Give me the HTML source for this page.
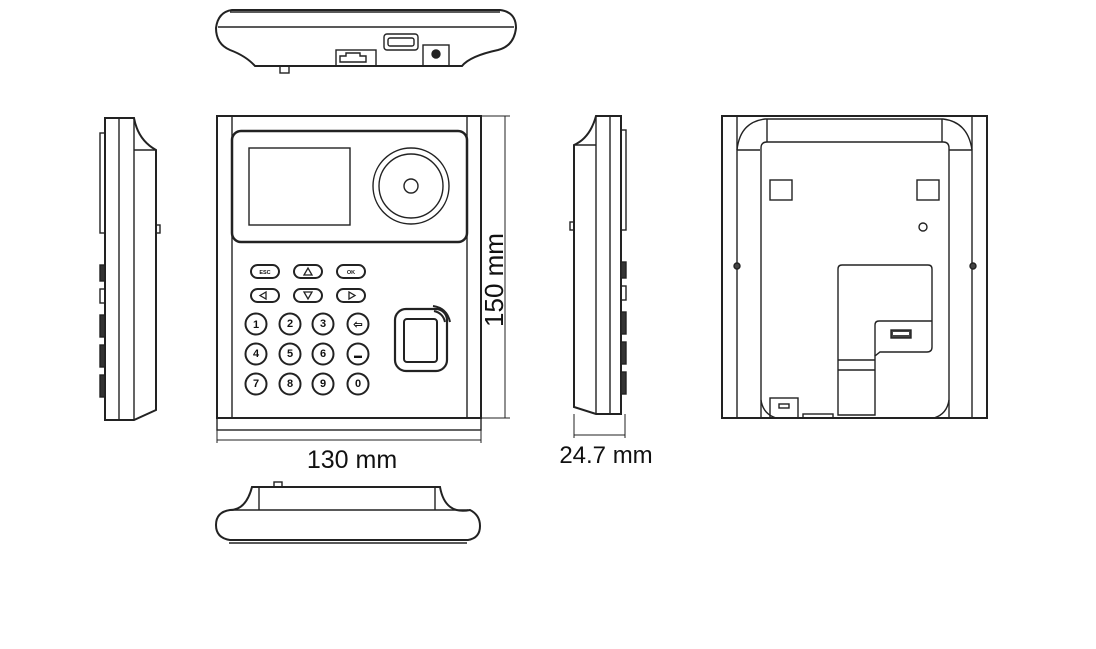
<!DOCTYPE html>
<html><head><meta charset="utf-8"><style>
html,body{margin:0;padding:0;background:#fff;}
svg{display:block;}
text{font-family:"Liberation Sans",sans-serif;fill:#111;}
</style></head><body>
<svg width="1096" height="649" viewBox="0 0 1096 649" xmlns="http://www.w3.org/2000/svg">
<g fill="none" stroke="#222" stroke-width="1.4">
<!-- TOP VIEW -->
<path d="M232 10 L500 10 Q516 12 516 28 Q514 46 498 50 Q470 56 462 66 L255 66 Q246 56 230 50 Q216 44 216 28 Q218 12 232 10 Z" stroke-width="2"/>
<line x1="218" y1="27" x2="514" y2="27"/>
<line x1="230" y1="12" x2="500" y2="12"/>
<rect x="336" y="50" width="40" height="16"/>
<path d="M340 56 h6 v-3 h14 v3 h6 v6 h-26 z"/>
<rect x="384" y="34" width="34" height="16" rx="3"/>
<rect x="388" y="38" width="26" height="8" rx="2"/>
<rect x="423" y="45" width="26" height="21"/>
<circle cx="436" cy="54" r="4" fill="#222"/>
<rect x="280" y="66" width="9" height="7"/>

<!-- LEFT SIDE VIEW -->
<path d="M105 118 L134 118 Q138 140 156 150 L156 410 L134 420 L105 420 Z" stroke-width="2"/>
<line x1="119" y1="118" x2="119" y2="420"/>
<line x1="134" y1="118" x2="134" y2="420"/>
<line x1="134" y1="150" x2="156" y2="150"/>
<rect x="100" y="133" width="5" height="100"/>
<rect x="100" y="265" width="5" height="16" fill="#333"/>
<rect x="100" y="289" width="5" height="14"/>
<rect x="100" y="315" width="5" height="22" fill="#333"/>
<rect x="100" y="345" width="5" height="22" fill="#333"/>
<rect x="100" y="375" width="5" height="22" fill="#333"/>
<rect x="156" y="225" width="4" height="8"/>

<!-- FRONT VIEW -->
<rect x="217" y="116" width="264" height="302" stroke-width="2"/>
<line x1="232" y1="116" x2="232" y2="418"/>
<line x1="467" y1="116" x2="467" y2="418"/>
<rect x="217" y="418" width="264" height="12"/>
<rect x="232" y="131" width="235" height="111" rx="9" stroke-width="2.5"/>
<rect x="249" y="148" width="101" height="77"/>
<circle cx="411" cy="186" r="38"/>
<circle cx="411" cy="186" r="32"/>
<circle cx="411" cy="186" r="7"/>
<g stroke-width="2">
<rect x="251" y="265" width="28" height="13" rx="6.5"/>
<rect x="294" y="265" width="28" height="13" rx="6.5"/>
<rect x="337" y="265" width="28" height="13" rx="6.5"/>
<rect x="251" y="289" width="28" height="13" rx="6.5"/>
<rect x="294" y="289" width="28" height="13" rx="6.5"/>
<rect x="337" y="289" width="28" height="13" rx="6.5"/>
<circle cx="256" cy="324" r="10.5"/><circle cx="290" cy="324" r="10.5"/><circle cx="323" cy="324" r="10.5"/><circle cx="358" cy="324" r="10.5"/>
<circle cx="256" cy="354" r="10.5"/><circle cx="290" cy="354" r="10.5"/><circle cx="323" cy="354" r="10.5"/><circle cx="358" cy="354" r="10.5"/>
<circle cx="256" cy="384" r="10.5"/><circle cx="290" cy="384" r="10.5"/><circle cx="323" cy="384" r="10.5"/><circle cx="358" cy="384" r="10.5"/>
<path d="M304 275 l4 -7 l4 7 z M260 295.5 l6 -3.5 v7 z M304 292 l4 7 l4 -7 z M349 292 v7 l6 -3.5 z" stroke-width="1.3"/>
<rect x="395" y="309" width="52" height="62" rx="11" stroke-width="2.2"/>
<rect x="404" y="319" width="33" height="43" rx="3"/>
<path d="M433 306 Q447 308 450 322" />
<path d="M434 311 Q443 313 445 322" />
</g>
<g font-size="7" font-weight="bold" fill="#222" stroke="none">
<text x="265" y="274" text-anchor="middle" font-size="5.5">ESC</text>
<text x="351" y="274" text-anchor="middle" font-size="5.5">OK</text>
</g>
<g stroke="none" fill="#222" font-weight="bold" font-size="11" text-anchor="middle">
<text x="256" y="328">1</text><text x="290" y="327">2</text><text x="323" y="327">3</text><text x="358" y="328">⇦</text>
<text x="256" y="357">4</text><text x="290" y="357">5</text><text x="323" y="357">6</text><text x="358" y="358" font-size="8">▬</text>
<text x="256" y="387">7</text><text x="290" y="387">8</text><text x="323" y="387">9</text><text x="358" y="387">0</text>
</g>
<!-- dimension lines -->
<line x1="217" y1="430" x2="217" y2="443" stroke-width="1"/>
<line x1="481" y1="430" x2="481" y2="443" stroke-width="1"/>
<line x1="217" y1="440" x2="481" y2="440" stroke-width="1"/>
<line x1="481" y1="116" x2="510" y2="116" stroke-width="1"/>
<line x1="481" y1="418" x2="510" y2="418" stroke-width="1"/>
<line x1="505" y1="116" x2="505" y2="418" stroke-width="1"/>

<!-- RIGHT SIDE VIEW -->
<path d="M596 116 L621 116 L621 414 L596 414 L574 407 L574 145 Q590 138 596 116 Z" stroke-width="2"/>
<line x1="596" y1="116" x2="596" y2="414"/>
<line x1="610" y1="116" x2="610" y2="414"/>
<line x1="574" y1="145" x2="596" y2="145"/>
<rect x="621" y="130" width="5" height="100"/>
<rect x="621" y="262" width="5" height="16" fill="#333"/>
<rect x="621" y="286" width="5" height="14"/>
<rect x="621" y="312" width="5" height="22" fill="#333"/>
<rect x="621" y="342" width="5" height="22" fill="#333"/>
<rect x="621" y="372" width="5" height="22" fill="#333"/>
<rect x="570" y="222" width="4" height="8"/>
<line x1="574" y1="414" x2="574" y2="438" stroke-width="1"/>
<line x1="625" y1="414" x2="625" y2="438" stroke-width="1"/>
<line x1="574" y1="435" x2="625" y2="435" stroke-width="1"/>

<!-- BACK VIEW -->
<rect x="722" y="116" width="265" height="302" stroke-width="2"/>
<line x1="737" y1="116" x2="737" y2="418"/>
<line x1="972" y1="116" x2="972" y2="418"/>
<path d="M737 150 Q740 122 765 119 L943 119 Q968 122 972 150"/>
<line x1="737" y1="150" x2="760" y2="150"/>
<line x1="949" y1="150" x2="972" y2="150"/>
<line x1="767" y1="119" x2="767" y2="142"/>
<line x1="942" y1="119" x2="942" y2="142"/>
<path d="M761 418 L761 148 Q761 142 767 142 L943 142 Q949 142 949 148 L949 418"/>
<path d="M761 400 Q763 414 776 418"/>
<path d="M949 400 Q947 414 934 418"/>
<rect x="770" y="180" width="22" height="20"/>
<rect x="917" y="180" width="22" height="20"/>
<circle cx="923" cy="227" r="4"/>
<circle cx="737" cy="266" r="3" fill="#444"/>
<circle cx="973" cy="266" r="3" fill="#444"/>
<path d="M838 415 L838 269 Q838 265 842 265 L928 265 Q932 265 932 269 L932 347 Q932 352 927 352 L880 352 L875 356 L875 415 Z"/>
<path d="M875 356 L875 325 Q875 321 879 321 L932 321"/>
<line x1="838" y1="360" x2="875" y2="360"/>
<line x1="838" y1="370" x2="875" y2="370"/>
<rect x="891" y="330" width="20" height="8" fill="#444"/>
<rect x="893" y="332" width="16" height="3" fill="#fff" stroke="none"/>
<rect x="770" y="398" width="28" height="20"/>
<rect x="779" y="404" width="10" height="4"/>
<rect x="803" y="414" width="30" height="4"/>

<!-- BOTTOM VIEW -->
<path d="M252 487 L440 487 Q445 515 470 510 Q480 515 480 526 Q480 538 468 540 L230 540 Q216 538 216 525 Q216 512 230 510 Q246 510 252 487 Z" stroke-width="2"/>
<line x1="230" y1="510" x2="468" y2="510"/>
<line x1="259" y1="487" x2="259" y2="510"/>
<line x1="435" y1="487" x2="435" y2="510"/>
<line x1="229" y1="543" x2="467" y2="543"/>
<rect x="274" y="482" width="8" height="5"/>
</g>
<text x="352" y="468" font-size="25" text-anchor="middle">130 mm</text>
<text x="606" y="463" font-size="24" text-anchor="middle">24.7 mm</text>
<text transform="translate(503,280) rotate(-90)" font-size="26" text-anchor="middle">150 mm</text>
</svg>
</body></html>
